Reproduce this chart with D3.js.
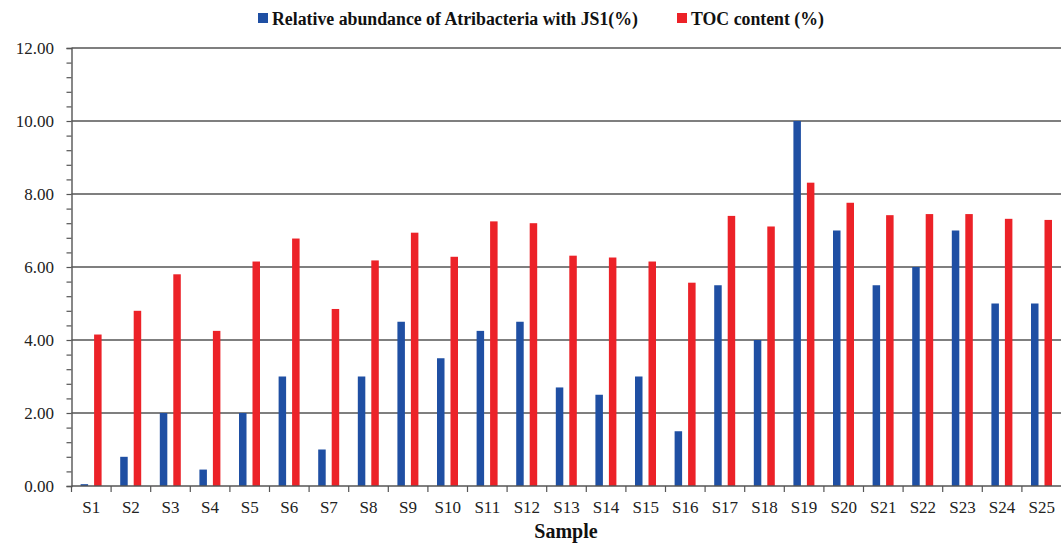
<!DOCTYPE html>
<html>
<head>
<meta charset="utf-8">
<script src="https://cdn.jsdelivr.net/npm/d3@7"></script>
<style>
  body { margin: 0; background: #fff; }
</style>
</head>
<body>
<script>
// data
const samples = ["S1","S2","S3","S4","S5","S6","S7","S8","S9","S10","S11","S12","S13",
                 "S14","S15","S16","S17","S18","S19","S20","S21","S22","S23","S24","S25"];
const atribacteria = [0.05,0.8,2.0,0.45,2.0,3.0,1.0,3.0,4.5,3.5,4.25,4.5,2.7,
                      2.5,3.0,1.5,5.5,4.0,10.0,7.0,5.5,6.0,7.0,5.0,5.0];
const toc = [4.15,4.8,5.8,4.25,6.15,6.78,4.85,6.18,6.94,6.28,7.25,7.2,6.31,
             6.26,6.15,5.57,7.4,7.11,8.31,7.76,7.42,7.45,7.45,7.32,7.29];
const seriesNames = ["Relative abundance of Atribacteria with JS1(%)", "TOC content (%)"];
const seriesColors = ["#1f4fa3", "#ec2228"];
const yTicks = [0,2,4,6,8,10,12];

const W = 1061, H = 545,
      MARGIN = {top: 48, right: 0, bottom: 59, left: 71.5},
      FONT = "'Liberation Serif'";

let svg = d3.select("body").append("svg")
  .attr("width", W).attr("height", H);

let x = d3.scaleBand().domain(samples).range([MARGIN.left, W + 0.5]).padding(0);
let y = d3.scaleLinear().domain([0, 12]).range([H - MARGIN.bottom, MARGIN.top]);
let xSub = d3.scaleBand().domain([0, 1])
  .range([x.bandwidth() * 0.23, x.bandwidth() * 0.76]).paddingInner(0.444);

// gridlines
svg.append("g").selectAll("line")
  .data(yTicks.filter(d => d > 0))
  .join("line")
  .attr("x1", MARGIN.left).attr("x2", W)
  .attr("y1", d => y(d)).attr("y2", d => y(d))
  .attr("stroke", "#555").attr("stroke-width", 1.4);

// bars
let rows = samples.map((s, i) => ({s: s, v: [atribacteria[i], toc[i]]}));
let groups = svg.append("g").selectAll("g")
  .data(rows).join("g")
  .attr("transform", d => "translate(" + x(d.s) + ",0)");
groups.selectAll("rect")
  .data(d => d.v.map((v, k) => ({k: k, v: v})))
  .join("rect")
  .attr("x", d => xSub(d.k))
  .attr("width", xSub.bandwidth())
  .attr("y", d => y(d.v))
  .attr("height", d => y(0) - y(d.v))
  .attr("fill", d => seriesColors[d.k]);

// y axis with minor ticks
let yAxis = svg.append("g").attr("transform", "translate(" + MARGIN.left + ",0)");
yAxis.call(d3.axisLeft(y).tickValues(d3.range(0, 12.01, 0.4)).tickSize(5).tickFormat(""));
yAxis.select(".domain").attr("stroke", "#555").attr("stroke-width", 1.4);
yAxis.selectAll(".tick line").attr("stroke", "#555").attr("stroke-width", 1.2);
svg.append("g").selectAll("text")
  .data(yTicks).join("text")
  .attr("x", 54).attr("y", d => y(d)).attr("dy", "0.35em")
  .attr("text-anchor", "end")
  .attr("font-family", FONT).attr("font-size", 17).attr("fill", "#222")
  .text(d3.format(".2f"));

// x axis
let xAxis = svg.append("g").attr("transform", "translate(0," + y(0) + ")");
xAxis.append("line").attr("x1", MARGIN.left).attr("x2", W)
  .attr("stroke", "#555").attr("stroke-width", 1.4);
xAxis.selectAll("line.t")
  .data(samples).join("line").attr("class", "t")
  .attr("x1", d => x(d)).attr("x2", d => x(d))
  .attr("y1", 0).attr("y2", 6)
  .attr("stroke", "#555").attr("stroke-width", 1.2);
xAxis.selectAll("text")
  .data(samples).join("text")
  .attr("x", d => x(d) + x.bandwidth() / 2).attr("y", 27)
  .attr("text-anchor", "middle")
  .attr("font-family", FONT).attr("font-size", 17).attr("fill", "#222")
  .text(d => d);

svg.append("text").attr("x", 566).attr("y", 538)
  .attr("text-anchor", "middle")
  .attr("font-family", FONT).attr("font-size", 20).attr("font-weight", "bold").attr("fill", "#111")
  .text("Sample");

// legend
let legend = svg.append("g");
let legendX = [258, 677], legendW = [366, 133];
seriesNames.forEach((n, i) => {
  legend.append("rect").attr("x", legendX[i]).attr("y", 13)
    .attr("width", 10).attr("height", 10).attr("fill", seriesColors[i]);
  legend.append("text").attr("x", legendX[i] + 14).attr("y", 24.5)
    .attr("font-family", FONT).attr("font-size", 18).attr("font-weight", "bold").attr("fill", "#111")
    .attr("textLength", legendW[i]).attr("lengthAdjust", "spacingAndGlyphs")
    .text(n);
});
</script>
</body>
</html>
